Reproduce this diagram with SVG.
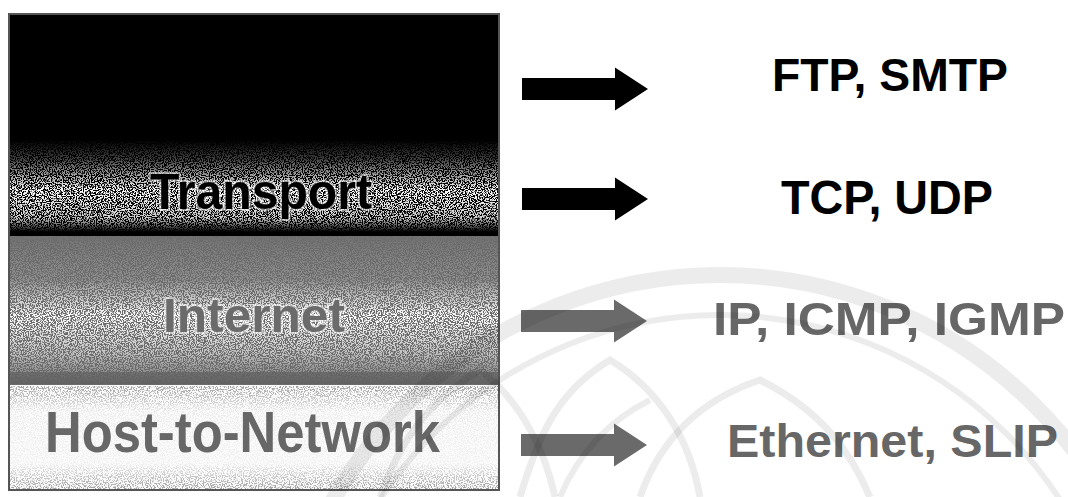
<svg xmlns="http://www.w3.org/2000/svg" xmlns:xlink="http://www.w3.org/1999/xlink" width="1068" height="497" viewBox="0 0 1068 497">
  <style>
    .lbl { font-family: "Liberation Sans", Arial, sans-serif; font-weight: bold; }
    .dark { fill: #000000; }
    .gray { fill: #676767; }
    .halo { stroke: #ffffff; stroke-opacity: 0.55; stroke-width: 4; paint-order: stroke; stroke-linejoin: round; }
    .wm { fill: none; stroke: #000000; stroke-opacity: 0.075; }
  </style>
  <defs>
    <filter id="speckW" x="0" y="0" width="1" height="1" filterUnits="objectBoundingBox">
      <feTurbulence type="fractalNoise" baseFrequency="0.85" numOctaves="2" seed="7" result="t"/>
      <feColorMatrix in="t" type="matrix" values="0 0 0 0 1  0 0 0 0 1  0 0 0 0 1  0 0 0 9 -4.0" result="w"/>
      <feComposite in="w" in2="SourceGraphic" operator="in"/>
    </filter>
    <filter id="speckD" x="0" y="0" width="1" height="1" filterUnits="objectBoundingBox">
      <feTurbulence type="fractalNoise" baseFrequency="0.85" numOctaves="2" seed="11" result="t"/>
      <feColorMatrix in="t" type="matrix" values="0 0 0 0 0.35  0 0 0 0 0.35  0 0 0 0 0.35  0 0 0 9 -4.3" result="w"/>
      <feComposite in="w" in2="SourceGraphic" operator="in"/>
    </filter>
    <linearGradient id="gT" x1="0" y1="0" x2="0" y2="1">
      <stop offset="0" stop-color="#fff" stop-opacity="0"/>
      <stop offset="0.2" stop-color="#fff" stop-opacity="0.25"/>
      <stop offset="0.55" stop-color="#fff" stop-opacity="1"/>
      <stop offset="0.85" stop-color="#fff" stop-opacity="0.8"/>
      <stop offset="1" stop-color="#fff" stop-opacity="0"/>
    </linearGradient>
    <linearGradient id="gI" x1="0" y1="0" x2="0" y2="1">
      <stop offset="0" stop-color="#fff" stop-opacity="0.05"/>
      <stop offset="0.3" stop-color="#fff" stop-opacity="0.25"/>
      <stop offset="0.55" stop-color="#fff" stop-opacity="1"/>
      <stop offset="0.8" stop-color="#fff" stop-opacity="0.6"/>
      <stop offset="1" stop-color="#fff" stop-opacity="0.05"/>
    </linearGradient>
    <linearGradient id="gH" x1="0" y1="0" x2="0" y2="1">
      <stop offset="0" stop-color="#fff" stop-opacity="1"/>
      <stop offset="0.25" stop-color="#fff" stop-opacity="0.15"/>
      <stop offset="0.75" stop-color="#fff" stop-opacity="0.1"/>
      <stop offset="1" stop-color="#fff" stop-opacity="1"/>
    </linearGradient>
    <path id="arrow" d="M0,-11 H93 V-21.5 L126,0 L93,21.5 V11 H0 Z"/>
  </defs>

  <rect x="0" y="0" width="1068" height="497" fill="#ffffff"/>

  <g id="layer-application">
    <rect x="9" y="14" width="490" height="222" fill="#000000"/>
  </g>

  <g id="layer-transport">
    <rect x="10" y="140" width="488" height="92" fill="url(#gT)" filter="url(#speckW)"/>
    <text class="lbl dark halo" x="150" y="209" font-size="50" textLength="222" lengthAdjust="spacingAndGlyphs">Transport</text>
  </g>

  <g id="layer-internet">
    <rect x="9" y="236" width="490" height="149" fill="#6b6b6b"/>
    <rect x="10" y="236" width="488" height="146" fill="url(#gI)" filter="url(#speckW)"/>
    <rect x="9" y="372" width="490" height="12" fill="#5e5e5e" opacity="0.6"/>
    <text class="lbl halo" fill="#6b6b6b" x="163" y="332" font-size="49" textLength="182" lengthAdjust="spacingAndGlyphs">Internet</text>
  </g>

  <g id="layer-host">
    <rect x="9" y="385" width="490" height="105" fill="#fbfbfb"/>
    <rect x="10" y="386" width="488" height="103" fill="url(#gH)" filter="url(#speckD)"/>
    <text class="lbl gray" x="45" y="452" font-size="57" textLength="395" lengthAdjust="spacingAndGlyphs">Host-to-Network</text>
  </g>

  <rect x="9" y="14" width="490" height="476" fill="none" stroke="#555555" stroke-width="2"/>

  <g id="connectors">
    <use xlink:href="#arrow" href="#arrow" x="522" y="89" fill="#000000"/>
    <use xlink:href="#arrow" href="#arrow" x="522" y="199" fill="#000000"/>
    <use xlink:href="#arrow" href="#arrow" x="521" y="321" fill="#6a6a6a"/>
    <use xlink:href="#arrow" href="#arrow" x="521" y="445" fill="#6a6a6a"/>
  </g>

  <g id="proto-application">
    <text class="lbl dark" x="772" y="91" font-size="47" textLength="236" lengthAdjust="spacingAndGlyphs">FTP, SMTP</text>
  </g>
  <g id="proto-transport">
    <text class="lbl dark" x="781" y="214" font-size="48" textLength="212" lengthAdjust="spacingAndGlyphs">TCP, UDP</text>
  </g>
  <g id="proto-internet">
    <text class="lbl gray" x="713" y="335" font-size="46" textLength="352" lengthAdjust="spacingAndGlyphs">IP, ICMP, IGMP</text>
  </g>
  <g id="proto-host">
    <text class="lbl gray" x="727" y="457" font-size="47" textLength="331" lengthAdjust="spacingAndGlyphs">Ethernet, SLIP</text>
  </g>

  <g id="watermark">
    <circle class="wm" cx="720" cy="720" r="445" stroke-width="16"/>
    <circle class="wm" cx="720" cy="720" r="405" stroke-width="6"/>
    <path class="wm" stroke-width="7" d="M520,497 C540,430 560,390 610,360 C660,390 690,440 700,497"/>
    <path class="wm" stroke-width="7" d="M640,497 C660,440 700,400 760,380 C820,410 850,450 870,497"/>
    <path class="wm" stroke-width="7" d="M380,497 C400,440 430,400 480,370 C520,400 545,450 555,497"/>
    <path class="wm" stroke-width="6" d="M560,497 C580,450 610,420 650,400"/>
  </g>
</svg>
